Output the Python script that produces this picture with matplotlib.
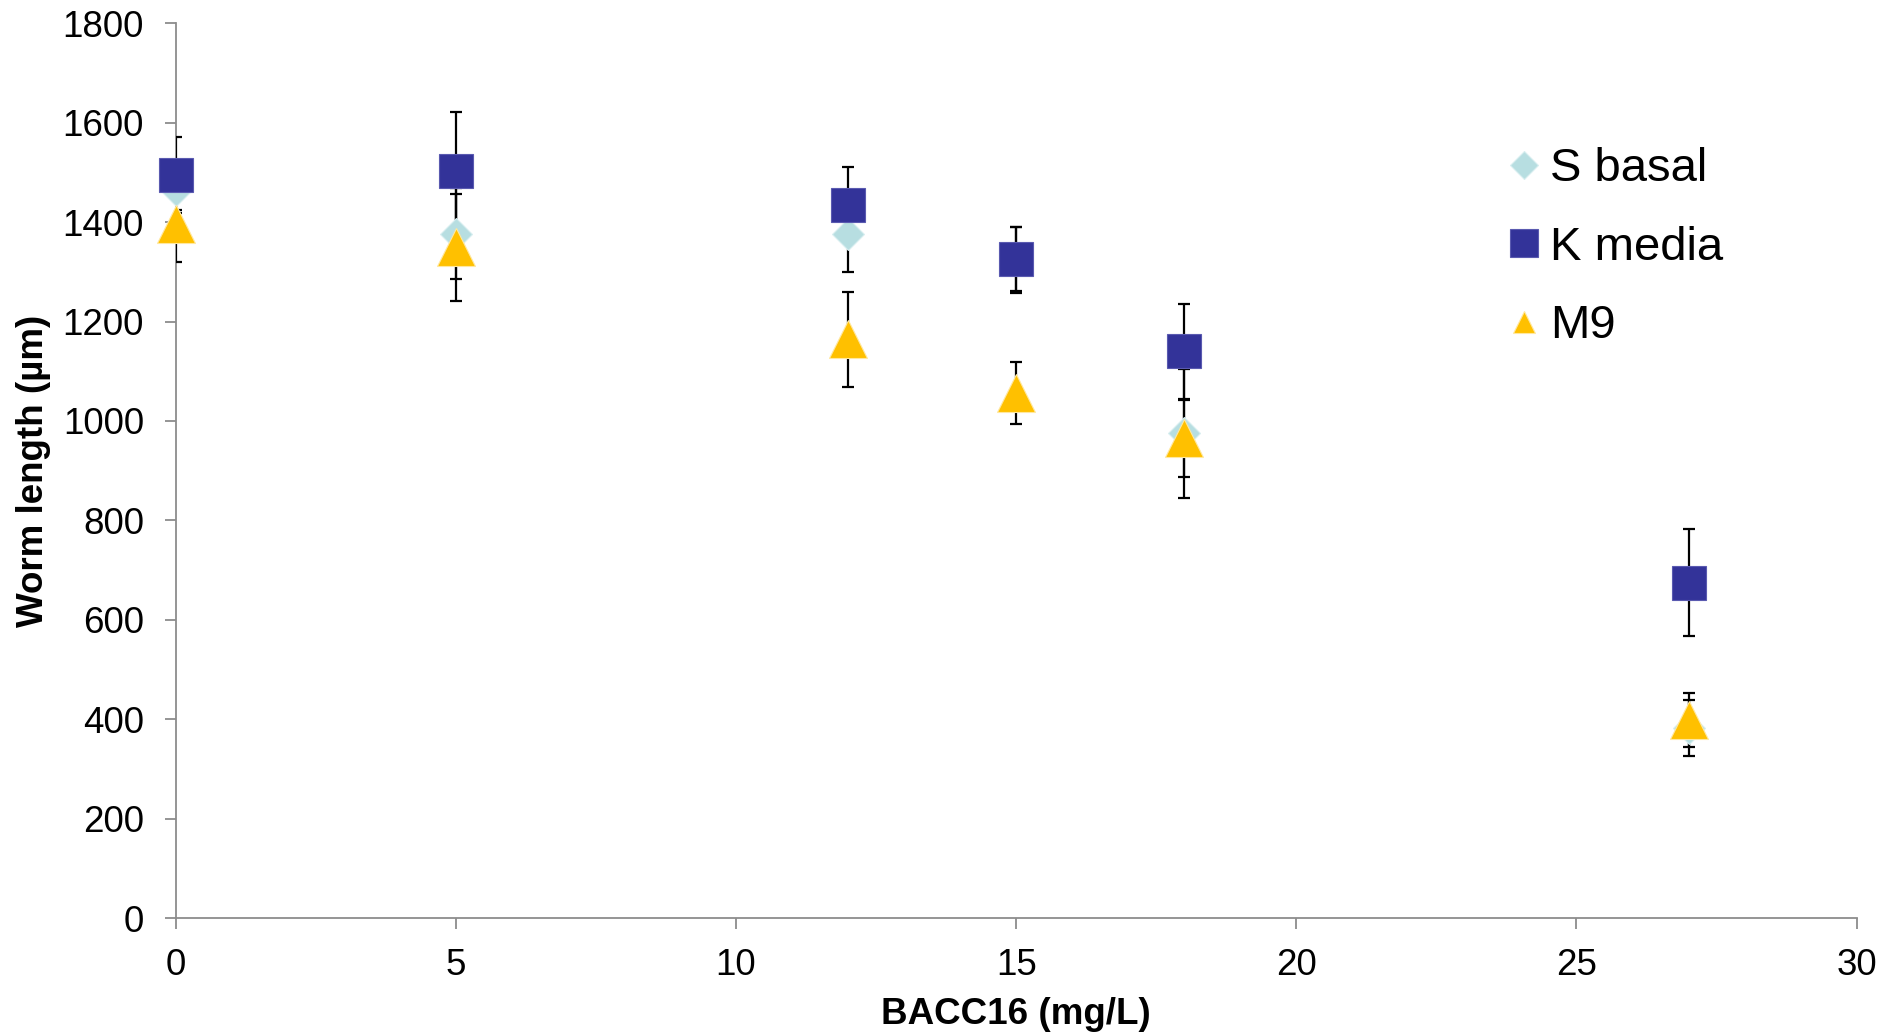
import matplotlib
matplotlib.use("Agg")
import matplotlib.pyplot as plt
from matplotlib.lines import Line2D

plt.rcParams['font.family'] = ['Liberation Sans', 'DejaVu Sans']

# BACC16 concentration (mg/L)
conc = [0, 5, 12, 15, 18, 27]

# Mean worm length (µm) and error per medium
s_basal = [1465, 1377, 1376, 1324, 975, 382]
s_basal_err = [40, 91, 77, 67, 129, 57]

k_media = [1495, 1503, 1434, 1326, 1140, 675]
k_media_err = [76, 119, 77, 65, 95, 108]

m9 = [1396, 1349, 1164, 1056, 965, 398]
m9_err = [76, 107, 95, 62, 77, 54]

series_names = ['S basal', 'K media', 'M9']
colors = ['#B7DEE1', '#333399', '#FFC000']
edge_colors = ['#D8EEF0', '#5A5AB0', '#FFE8A0']
markers = ['D', 's', '^']
marker_sizes = [16.8, 23.8, 27.4]
legend_sizes = [14.3, 20.0, 16.5]

fig = plt.figure(figsize=(18.83, 10.35), dpi=100)
ax = fig.add_axes([0.0933, 0.113, 0.8927, 0.8645])

all_vals = [s_basal, k_media, m9]
all_errs = [s_basal_err, k_media_err, m9_err]

# error bars beneath all markers
for vals, errs in zip(all_vals, all_errs):
    ax.errorbar(conc, vals, yerr=errs, fmt='none', ecolor='black',
                elinewidth=1.6, capsize=4, capthick=1.6, zorder=3)

for i, (vals, name) in enumerate(zip(all_vals, series_names)):
    ax.plot(conc, vals, linestyle='none', marker=markers[i],
            markersize=marker_sizes[i], markerfacecolor=colors[i],
            markeredgecolor=edge_colors[i], markeredgewidth=0.8,
            clip_on=False, zorder=4 + i)

ax.set_xlim(0, 30)
ax.set_ylim(0, 1800)
ax.set_xticks(range(0, 31, 5))
ax.set_yticks(range(0, 1801, 200))

for side in ['top', 'right']:
    ax.spines[side].set_visible(False)
for side in ['left', 'bottom']:
    ax.spines[side].set_color('#8C8C8C')
    ax.spines[side].set_linewidth(1.3)

ax.tick_params(axis='both', direction='out', length=7.8, width=1.3,
               color='#8C8C8C', labelsize=26.5, labelcolor='black')
ax.tick_params(axis='y', pad=15)
ax.tick_params(axis='x', pad=14)

ax.set_xlabel('BACC16 (mg/L)', fontsize=26.5, fontweight='bold',
              va='center')
ax.xaxis.set_label_coords(0.5, -0.108)
ax.set_ylabel('Worm length (µm)', fontsize=26.5, fontweight='bold',
              va='center')
ax.yaxis.set_label_coords(-0.0847, 0.5)

handles = [Line2D([], [], linestyle='none', marker=markers[i],
                  markersize=legend_sizes[i], markerfacecolor=colors[i],
                  markeredgecolor=edge_colors[i], markeredgewidth=0.8)
           for i in range(3)]
ax.legend(handles, series_names, loc='center left',
          bbox_to_anchor=(0.7908, 0.749), frameon=False, fontsize=34,
          borderpad=0, handlelength=0.8, handletextpad=0.15,
          labelspacing=0.73, borderaxespad=0)

fig.savefig('out.png', dpi=100)
